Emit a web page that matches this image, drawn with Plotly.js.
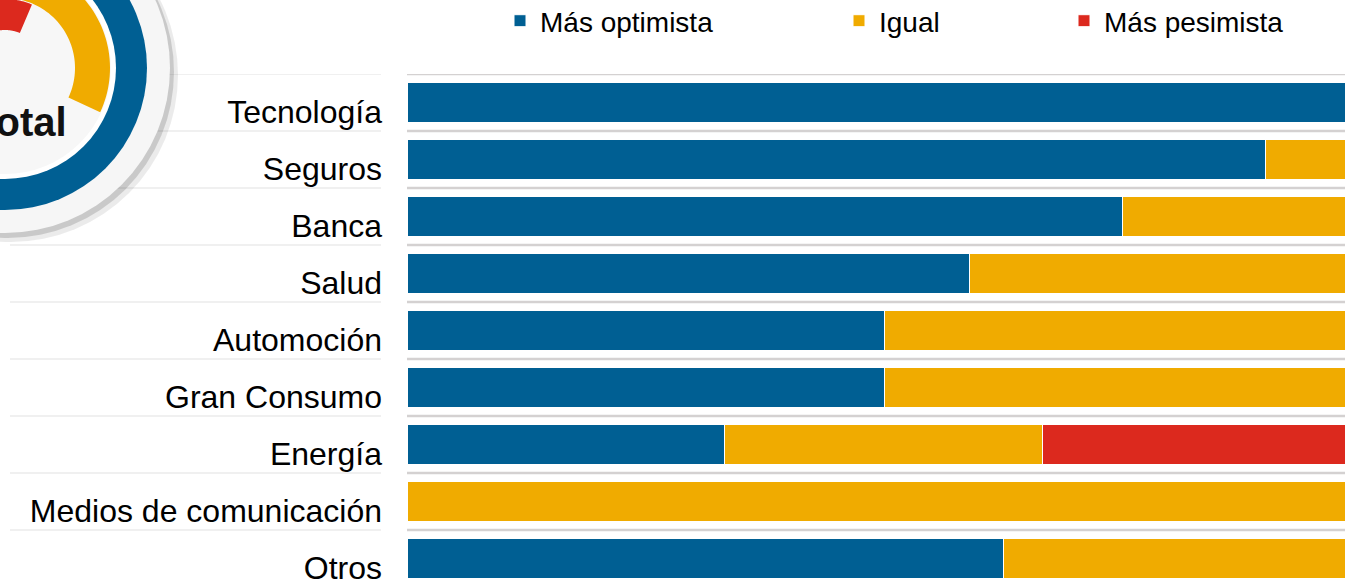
<!DOCTYPE html>
<html>
<head>
<meta charset="utf-8">
<script src="https://cdn.plot.ly/plotly-3.0.1.min.js"></script>
<style>html,body{margin:0;padding:0;background:#fff;}#chart{width:1345px;height:582px;}</style>
</head>
<body>
<div id="chart"></div>
<script>
// ---- data ----
const categories = ['Tecnología','Seguros','Banca','Salud','Automoción','Gran Consumo','Energía','Medios de comunicación','Otros'];
const masOptimista = [100, 90, 75, 59, 50, 50, 33.3, 0, 62.5];
const igual        = [0, 10, 25, 41, 50, 50, 33.3, 100, 37.5];
const masPesimista = [0, 0, 0, 0, 0, 0, 33.3, 0, 0];
const seriesNames  = ['Más optimista', 'Igual', 'Más pesimista'];
const seriesColors = ['#005F93', '#F0AB00', '#DC291E'];
const badgeText = 'Total';

// ---- layout geometry ----
const FW = 1345, FH = 582;
const ML = 407, MR = 0, MT = 74, MB = 0;
const PW = FW - ML - MR, PH = FH - MT - MB;
const ROW = 57;
const px = x => (x - ML) / PW;
const py = y => (FH - MB - y) / PH;

const traces = [masOptimista, igual, masPesimista].map((vals, i) => ({
  type: 'bar', orientation: 'h',
  y: categories, x: vals, name: seriesNames[i],
  marker: {color: seriesColors[i], line: {color: '#ffffff', width: 1}},
  legend: i === 0 ? 'legend' : 'legend' + (i + 1),
  hoverinfo: 'skip'
}));

const shapes = [];
// separators between rows (plot area and label area)
for (let k = -1; k < categories.length - 1; k++) {
  shapes.push({type: 'line', xref: 'paper', yref: 'y', x0: 0, x1: 1, y0: k + 0.5, y1: k + 0.5,
    line: {color: '#D4D1D1', width: 2.5}, layer: 'below'});
  shapes.push({type: 'line', xref: 'paper', yref: 'y', x0: px(10), x1: px(381), y0: k + 0.5, y1: k + 0.5,
    line: {color: '#EBEBEB', width: 1.5}, layer: 'below'});
}
// decorative badge (top-left)
const cx = 5, cy = 68;
function circ(r, color, dx, dy) {
  dx = dx || 0; dy = dy || 0;
  return {type: 'circle', xref: 'paper', yref: 'paper',
    x0: px(cx + dx - r), x1: px(cx + dx + r), y0: py(cy + dy + r), y1: py(cy + dy - r),
    fillcolor: color, line: {width: 0}, layer: 'above'};
}
function arc(r0, r1, a0, a1, color) {
  const n = 80, pts = [];
  for (let i = 0; i <= n; i++) {
    const a = (a0 + (a1 - a0) * i / n) * Math.PI / 180;
    pts.push([cx + r1 * Math.cos(a), cy - r1 * Math.sin(a)]);
  }
  for (let i = n; i >= 0; i--) {
    const a = (a0 + (a1 - a0) * i / n) * Math.PI / 180;
    pts.push([cx + r0 * Math.cos(a), cy - r0 * Math.sin(a)]);
  }
  const d = pts.map((p, i) => (i ? 'L' : 'M') + px(p[0]).toFixed(5) + ',' + py(p[1]).toFixed(5)).join(' ') + ' Z';
  return {type: 'path', xref: 'paper', yref: 'paper', path: d, fillcolor: color, line: {width: 0}, layer: 'above'};
}
shapes.push(circ(167, 'rgba(0,0,0,0.08)', 6, 7));
shapes.push(circ(166, 'rgba(0,0,0,0.14)', 3, 4));
shapes.push(circ(165, '#F6F6F6'));
shapes.push(circ(142, '#005F93'));
shapes.push(circ(111, '#FFFFFF'));
shapes.push(circ(106, '#F7F7F7'));
shapes.push(arc(70, 105, 160, -25, '#F0AB00'));
shapes.push(arc(38, 69, 120, 67, '#DC291E'));

const legendBase = {orientation: 'h', xref: 'container', yref: 'container', xanchor: 'left',
  y: 1 - 21 / FH, yanchor: 'middle', font: {size: 28}, bgcolor: 'rgba(0,0,0,0)', borderwidth: 0};

const layout = {
  width: FW, height: FH,
  margin: {l: ML, r: MR, t: MT, b: MB, pad: 0, autoexpand: false},
  paper_bgcolor: '#ffffff', plot_bgcolor: '#ffffff',
  barmode: 'stack', bargap: 0.31,
  font: {family: 'Liberation Sans, Arial, sans-serif', color: '#000000'},
  xaxis: {range: [0, 98.3], visible: false, fixedrange: true},
  yaxis: {type: 'category', categoryorder: 'array', categoryarray: categories,
    range: [PH / ROW - 0.5, -0.5],
    showgrid: false, zeroline: false, showline: false, ticks: '',
    tickfont: {size: 32, color: '#000000'}, ticklabelstandoff: 24, ticklabelshift: -9, fixedrange: true},
  showlegend: true,
  legend:  Object.assign({}, legendBase, {x: 500 / FW}),
  legend2: Object.assign({}, legendBase, {x: 839 / FW}),
  legend3: Object.assign({}, legendBase, {x: 1064 / FW}),
  shapes: shapes,
  annotations: [{text: '<b>' + badgeText + '</b>', xref: 'paper', yref: 'paper', x: px(69), xanchor: 'right',
    y: py(122), yanchor: 'middle', showarrow: false, font: {family: 'Liberation Sans, Arial, sans-serif', size: 40, color: '#111111'}}]
};

Plotly.newPlot('chart', traces, layout, {displayModeBar: false, staticPlot: true});
</script>
</body>
</html>
